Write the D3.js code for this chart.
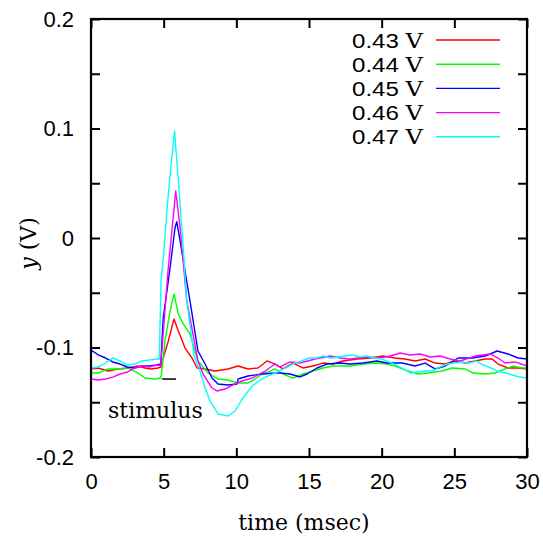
<!DOCTYPE html>
<html><head><meta charset="utf-8">
<script src="https://cdn.jsdelivr.net/npm/d3@7"></script>
<style>body{margin:0;background:#fff}svg{display:block}</style>
</head><body>
<svg id="chart" width="543" height="536"></svg>
<script>
// ---- data (time in msec, y in V) ----
const seriesNames = ["0.43 V", "0.44 V", "0.45 V", "0.46 V", "0.47 V"];
const seriesColors = ["#ff0000", "#00ff00", "#0000ff", "#ff00ff", "#00ffff"];

const trace043 = [[0,-0.1196],[0.48,-0.1187],[1.17,-0.1215],[1.86,-0.1196],[2.55,-0.1187],[3.23,-0.1169],[3.72,-0.1187],[4.13,-0.1196],[4.61,-0.1187],[4.82,-0.1178],[4.87,-0.1142],[5.32,-0.094],[5.71,-0.074],[6.01,-0.0849],[6.47,-0.1005],[6.95,-0.1096],[7.3,-0.1187],[7.85,-0.1196],[8.53,-0.1215],[9.43,-0.1196],[10.12,-0.1169],[10.8,-0.1196],[11.49,-0.1187],[12.11,-0.1123],[12.66,-0.1151],[13.21,-0.1196],[13.9,-0.1142],[14.59,-0.1187],[15.28,-0.1169],[15.97,-0.1142],[16.66,-0.1151],[17.34,-0.1123],[18.31,-0.1105],[19.2,-0.1096],[20.1,-0.1078],[20.92,-0.1096],[21.61,-0.1105],[22.3,-0.1123],[22.99,-0.1105],[23.68,-0.1142],[24.36,-0.1151],[25.05,-0.1123],[25.74,-0.1142],[26.43,-0.1123],[27.12,-0.1105],[27.6,-0.1105],[28.01,-0.1151],[28.7,-0.1187],[29.39,-0.1187],[30,-0.1196]];

const trace044 = [[0,-0.1233],[0.48,-0.1233],[1.17,-0.1196],[1.86,-0.1196],[2.55,-0.1187],[3.23,-0.1233],[3.72,-0.1279],[4.4,-0.1288],[4.8,-0.1279],[4.87,-0.1215],[5.09,-0.094],[5.44,-0.0667],[5.71,-0.0511],[6.01,-0.0694],[6.35,-0.0785],[6.81,-0.0877],[7.36,-0.1123],[8.05,-0.1233],[8.74,-0.1288],[9.43,-0.1297],[10.12,-0.1324],[10.8,-0.1324],[11.29,-0.1288],[11.77,-0.1242],[12.32,-0.1215],[12.66,-0.1196],[13.21,-0.1242],[13.9,-0.1279],[14.59,-0.1242],[15.28,-0.1215],[15.97,-0.1187],[16.66,-0.1169],[17.83,-0.1169],[18.72,-0.1151],[19.68,-0.1142],[20.37,-0.1151],[20.92,-0.1169],[21.82,-0.1215],[22.51,-0.1242],[23.19,-0.1233],[24.16,-0.1215],[24.85,-0.1187],[25.74,-0.1196],[26.29,-0.1233],[27.12,-0.1242],[27.8,-0.1233],[28.49,-0.1196],[29.04,-0.1169],[29.66,-0.1187],[30,-0.1187]];

const trace045 = [[0,-0.1023],[0.5,-0.1068],[1,-0.1096],[1.5,-0.1132],[2,-0.1151],[2.5,-0.1178],[3,-0.1187],[3.5,-0.1169],[4,-0.1169],[4.5,-0.116],[4.8,-0.1151],[4.97,-0.0731],[5.44,-0.0274],[5.78,0.0091],[5.9,0.0149],[6.13,-0.0027],[6.81,-0.0575],[7.36,-0.1032],[7.85,-0.1151],[8.33,-0.1279],[8.74,-0.1333],[9.43,-0.1342],[10.05,-0.1333],[10.12,-0.1288],[10.8,-0.126],[11.77,-0.1242],[12.66,-0.1233],[13.01,-0.1233],[13.7,-0.1242],[14.38,-0.1269],[14.87,-0.1242],[15.55,-0.1187],[16.24,-0.1151],[17.14,-0.1142],[17.83,-0.1151],[18.72,-0.1142],[19.68,-0.1123],[20.37,-0.1142],[21.4,-0.1142],[22.3,-0.1169],[22.99,-0.1142],[23.68,-0.1196],[24.36,-0.1169],[25.26,-0.1096],[26.22,-0.1096],[27.12,-0.1078],[27.94,-0.1032],[28.7,-0.1059],[29.39,-0.1096],[30,-0.1105]];

const trace046 = [[0,-0.1288],[0.5,-0.1297],[1,-0.1288],[1.5,-0.127],[2,-0.1242],[2.5,-0.1224],[3,-0.1187],[3.5,-0.1169],[4,-0.1178],[4.5,-0.116],[4.8,-0.1165],[5.3,-0.03],[5.83,0.0429],[6.13,0.0094],[6.59,-0.0575],[7.36,-0.1123],[7.71,-0.1242],[8.33,-0.137],[8.67,-0.1397],[9.22,-0.1379],[9.91,-0.1333],[10.39,-0.1306],[11.08,-0.1279],[11.98,-0.1215],[12.66,-0.1151],[13.01,-0.1178],[13.7,-0.1132],[14.38,-0.1142],[15.42,-0.1105],[16.45,-0.1078],[17.14,-0.1096],[17.83,-0.1105],[18.86,-0.1087],[19.89,-0.1096],[20.58,-0.1078],[21.27,-0.105],[21.95,-0.1068],[22.64,-0.1059],[23.33,-0.1087],[24.02,-0.1078],[24.71,-0.1105],[25.4,-0.1123],[26.43,-0.1078],[27.46,-0.1059],[28.01,-0.1096],[28.49,-0.1142],[29.18,-0.1132],[30,-0.1169]];

const trace047 = [[0,-0.1187],[0.5,-0.1178],[1,-0.1142],[1.5,-0.1096],[2,-0.1123],[2.5,-0.116],[3,-0.1151],[3.5,-0.1123],[4,-0.1114],[4.5,-0.1105],[4.7,-0.1105],[4.82,-0.0393],[5.0,-0.0146],[5.25,0.0292],[5.5,0.0658],[5.75,0.0977],[6.0,0.0539],[6.25,0.0091],[6.59,-0.0575],[7.1,-0.108],[7.5,-0.1215],[7.85,-0.137],[8.19,-0.1489],[8.74,-0.1607],[9.43,-0.1626],[9.91,-0.158],[10.46,-0.146],[11.08,-0.1352],[11.84,-0.1279],[12.66,-0.1233],[13.5,-0.118],[14,-0.1142],[14.5,-0.1123],[15,-0.1096],[15.5,-0.1096],[16,-0.1078],[16.5,-0.1096],[17,-0.1087],[17.5,-0.1078],[18,-0.1068],[18.5,-0.1087],[19,-0.1078],[19.5,-0.1096],[20,-0.1105],[20.5,-0.1132],[21,-0.116],[21.5,-0.1196],[22,-0.1233],[22.5,-0.1224],[23,-0.1215],[23.5,-0.1215],[24,-0.1178],[24.5,-0.1151],[25,-0.1142],[25.5,-0.1132],[26,-0.1142],[26.5,-0.1123],[27,-0.116],[27.5,-0.1187],[28,-0.1215],[28.5,-0.1233],[29,-0.1251],[29.5,-0.127],[30,-0.1279]];

const traces = [trace043, trace044, trace045, trace046, trace047];

const xTicks = [0, 5, 10, 15, 20, 25, 30];
const yTicks = [-0.2, -0.1, 0, 0.1, 0.2];
const yMinorTicks = [-0.15, -0.05, 0.05, 0.15];
const stimulusBar = [[4.9, -0.1288], [5.85, -0.1288]];
const stimulusLabel = "stimulus";
const xLabel = "time (msec)";

// ---- layout ----
const svg = d3.select("#chart");
const L = 91, R = 527, T = 19, B = 457;
const x = d3.scaleLinear().domain([0, 30]).range([L, R]);
const y = d3.scaleLinear().domain([-0.2, 0.2]).range([B, T]);

const sans = "'Liberation Sans', Arial, sans-serif";
const serif = "'DejaVu Serif', serif";
const tickFont = 22, legendFont = 20.5, serifFont = 22;

// traces
const line = d3.line().x(d => x(d[0])).y(d => y(d[1]));
traces.forEach((tr, i) => {
  svg.append("path").datum(tr).attr("d", line)
    .attr("fill", "none").attr("stroke", seriesColors[i])
    .attr("stroke-width", 1.4).attr("stroke-linejoin", "round");
});

// stimulus marker
svg.append("path").datum(stimulusBar).attr("d", line)
  .attr("stroke", "#000").attr("stroke-width", 1.5).attr("fill", "none");
svg.append("text").attr("x", x(1.17)).attr("y", 418)
  .attr("font-family", serif).attr("font-size", serifFont).attr("fill", "#000")
  .text(stimulusLabel);

// axes (ticks inward on all four sides)
const tk = 9;
const fmtY = d => d === 0 ? "0" : String(d);
const axB = d3.axisBottom(x).tickValues(xTicks).tickSize(-tk).tickPadding(16).tickFormat(d3.format("d"));
const axT = d3.axisTop(x).tickValues(xTicks).tickSize(-tk).tickFormat("");
const axLmaj = d3.axisLeft(y).tickValues(yTicks).tickSize(-tk).tickPadding(17).tickFormat(fmtY);
const axLmin = d3.axisLeft(y).tickValues(yMinorTicks).tickSize(-tk).tickFormat("");
const axRmaj = d3.axisRight(y).tickValues(yTicks).tickSize(-tk).tickFormat("");
const axRmin = d3.axisRight(y).tickValues(yMinorTicks).tickSize(-tk).tickFormat("");

function style(g) {
  g.select(".domain").remove();
  g.selectAll(".tick line").attr("stroke", "#000").attr("stroke-width", 2);
  g.selectAll(".tick text").attr("font-family", sans).attr("font-size", tickFont).attr("fill", "#000");
}
svg.append("g").attr("transform", `translate(0,${B})`).call(axB).call(style);
svg.append("g").attr("transform", `translate(0,${T})`).call(axT).call(style);
svg.append("g").attr("transform", `translate(${L},0)`).call(axLmaj).call(style);
svg.append("g").attr("transform", `translate(${L},0)`).call(axLmin).call(style);
svg.append("g").attr("transform", `translate(${R},0)`).call(axRmaj).call(style);
svg.append("g").attr("transform", `translate(${R},0)`).call(axRmin).call(style);

// frame
svg.append("rect").attr("x", L).attr("y", T).attr("width", R - L).attr("height", B - T)
  .attr("fill", "none").attr("stroke", "#000").attr("stroke-width", 2.2);

// axis labels
svg.append("text").attr("x", (L + R) / 2 - 5).attr("y", 530).attr("text-anchor", "middle")
  .attr("font-family", serif).attr("font-size", serifFont).attr("fill", "#000").text(xLabel);
const yl = svg.append("text").attr("transform", `translate(36,${y(-0.005)}) rotate(-90)`)
  .attr("text-anchor", "middle").attr("font-family", serif).attr("font-size", serifFont).attr("fill", "#000");
yl.append("tspan").attr("font-style", "italic").text("y");
yl.append("tspan").text(" (V)");

// legend
const legY0 = 40, legDy = 24.2;
seriesNames.forEach((name, i) => {
  const yy = legY0 + i * legDy;
  const t = svg.append("text").attr("x", 352).attr("y", yy + 7.5)
    .attr("textLength", 71).attr("lengthAdjust", "spacingAndGlyphs")
    .attr("font-family", sans).attr("font-size", legendFont).attr("fill", "#000");
  const parts = name.split(" ");
  t.append("tspan").text(parts[0] + " ");
  t.append("tspan").attr("font-family", serif).text(parts[1]);
  svg.append("line").attr("x1", 436).attr("x2", 500).attr("y1", yy).attr("y2", yy)
    .attr("stroke", seriesColors[i]).attr("stroke-width", 1.4);
});
</script>
</body></html>
